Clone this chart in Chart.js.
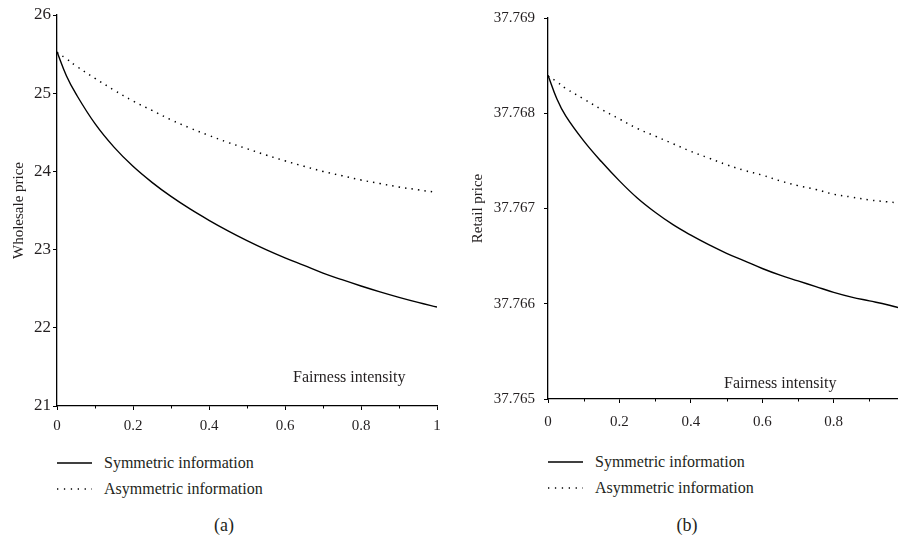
<!DOCTYPE html>
<html>
<head>
<meta charset="utf-8">
<script src="https://cdn.jsdelivr.net/npm/chart.js@4.4.1/dist/chart.umd.min.js"></script>
<style>
  body { margin: 0; background: #fff; width: 898px; height: 541px; overflow: hidden; position: relative;
         font-family: "Liberation Serif", "DejaVu Serif", serif; color: #231f20; }
  .panel { position: absolute; top: 0; width: 449px; height: 445px; }
  .row { position: absolute; height: 20px; line-height: 20px; font-size: 16px; white-space: nowrap; }
  .row svg { position: absolute; left: 0; top: 8px; }
  .row span { position: absolute; }
  .caption { position: absolute; font-size: 18px; transform: translate(-50%, -50%); }
</style>
</head>
<body>
<div class="panel" style="left:0"><canvas id="chartA" width="449" height="445"></canvas></div>
<div class="panel" style="left:449px"><canvas id="chartB" width="449" height="445"></canvas></div>

<div class="row" style="left:57px; top:453px">
  <svg width="36" height="4"><line x1="0" y1="2" x2="35" y2="2" stroke="#000" stroke-width="1.4"/></svg>
  <span style="left:47px">Symmetric information</span>
</div>
<div class="row" style="left:57px; top:479px">
  <svg width="36" height="4"><line x1="0" y1="2" x2="35" y2="2" stroke="#000" stroke-width="1.4" stroke-dasharray="1.3 5.6"/></svg>
  <span style="left:47px">Asymmetric information</span>
</div>
<div class="row" style="left:548px; top:452px">
  <svg width="36" height="4"><line x1="0" y1="2" x2="35" y2="2" stroke="#000" stroke-width="1.4"/></svg>
  <span style="left:47px">Symmetric information</span>
</div>
<div class="row" style="left:548px; top:478px">
  <svg width="36" height="4"><line x1="0" y1="2" x2="35" y2="2" stroke="#000" stroke-width="1.4" stroke-dasharray="1.3 5.6"/></svg>
  <span style="left:47px">Asymmetric information</span>
</div>
<div class="caption" style="left:224px; top:525px">(a)</div>
<div class="caption" style="left:687px; top:525px">(b)</div>

<script>
// panel (a): wholesale price vs fairness intensity
const fairnessA = [0, 0.025, 0.05, 0.1, 0.15, 0.2, 0.25, 0.3, 0.35, 0.4, 0.45, 0.5,
                   0.55, 0.6, 0.65, 0.7, 0.75, 0.8, 0.85, 0.9, 0.95, 1];
const wholesaleSym = [25.53, 25.22, 24.99, 24.61, 24.31, 24.065, 23.86, 23.68, 23.52, 23.375, 23.24, 23.115,
                      23.00, 22.895, 22.798, 22.70, 22.615, 22.535, 22.46, 22.39, 22.325, 22.265];
const wholesaleAsym = [25.52, 25.44, 25.35, 25.19, 25.04, 24.90, 24.78, 24.66, 24.555, 24.46, 24.37, 24.29,
                       24.21, 24.135, 24.065, 24.00, 23.945, 23.89, 23.845, 23.80, 23.765, 23.73];

// panel (b): retail price vs fairness intensity
const fairnessB = [0, 0.025, 0.05, 0.1, 0.15, 0.2, 0.25, 0.3, 0.35, 0.4, 0.45, 0.5,
                   0.55, 0.6, 0.65, 0.7, 0.75, 0.8, 0.85, 0.9, 0.95, 0.98];
const retailSym = [37.76840, 37.76815, 37.76797, 37.76771, 37.76749, 37.76729, 37.76711, 37.76696,
                   37.76683, 37.76672, 37.76662, 37.76653, 37.76645, 37.76637, 37.76630, 37.76624,
                   37.76618, 37.76612, 37.76607, 37.76603, 37.76599, 37.76596];
const retailAsym = [37.76839, 37.76833, 37.76826, 37.76815, 37.76804, 37.76794, 37.76784, 37.76776,
                    37.76768, 37.76760, 37.76753, 37.76746, 37.76740, 37.76735, 37.76729, 37.76724,
                    37.76720, 37.76715, 37.76712, 37.76709, 37.76707, 37.76706];

const wholesaleTicks = [21, 22, 23, 24, 25, 26];
const retailTicks = [37.765, 37.766, 37.767, 37.768, 37.769];
const xTicksA = [0, 0.2, 0.4, 0.6, 0.8, 1];
const xTicksB = [0, 0.2, 0.4, 0.6, 0.8];
const minorTicks = [0.1, 0.3, 0.5, 0.7, 0.9];

const FONT = '"Liberation Serif", "DejaVu Serif", serif';
const INK = '#231f20';

// minor x ticks + the "Fairness intensity" label sitting inside the plot
const extras = {
    id: 'extras',
    afterDraw(chart, args, opts) {
        const { ctx, chartArea, scales } = chart;
        ctx.save();
        ctx.strokeStyle = '#000';
        ctx.lineWidth = 1;
        opts.minor.forEach(v => {
            if (v > scales.x.max) return;
            const px = Math.round(scales.x.getPixelForValue(v)) + 0.5;
            ctx.beginPath();
            ctx.moveTo(px, chartArea.bottom);
            ctx.lineTo(px, chartArea.bottom + 2.5);
            ctx.stroke();
        });
        ctx.fillStyle = INK;
        ctx.font = '16px ' + FONT;
        ctx.textBaseline = 'middle';
        ctx.fillText(opts.label, chartArea.left + opts.dx, chartArea.bottom - opts.dy);
        ctx.restore();
    }
};

function points(xs, ys) {
    return xs.map((x, i) => ({ x: x, y: ys[i] }));
}

function makeChart(id, cfg) {
    return new Chart(document.getElementById(id), {
        type: 'line',
        data: {
            datasets: [{
                label: 'Symmetric information',
                data: points(cfg.xs, cfg.sym),
                borderColor: '#000',
                borderWidth: 1.4,
                pointRadius: 0,
                tension: 0.4
            }, {
                label: 'Asymmetric information',
                data: points(cfg.xs, cfg.asym),
                borderColor: '#000',
                borderWidth: 1.5,
                borderDash: [1.4, 5.1],
                pointRadius: 0,
                tension: 0.4
            }]
        },
        options: {
            responsive: false,
            animation: false,
            events: [],
            layout: { padding: { top: 15, right: cfg.padRight, left: 0, bottom: 0 } },
            plugins: {
                legend: { display: false },
                tooltip: { enabled: false },
                extras: { minor: minorTicks, label: 'Fairness intensity', dx: cfg.labelDx, dy: cfg.labelDy }
            },
            scales: {
                x: {
                    type: 'linear',
                    min: 0,
                    max: cfg.xMax,
                    afterBuildTicks: s => { s.ticks = cfg.xTicks.map(v => ({ value: v })); },
                    afterFit: s => { s.height = cfg.xHeight; },
                    grid: { drawOnChartArea: false, drawTicks: true, tickLength: 4, tickColor: '#000', tickWidth: 1 },
                    border: { display: true, color: '#000', width: 1.3 },
                    ticks: {
                        font: { family: FONT, size: 15 },
                        color: INK,
                        padding: cfg.xPad,
                        maxRotation: 0,
                        autoSkip: false,
                        callback: v => String(v)
                    }
                },
                y: {
                    type: 'linear',
                    min: cfg.yTicks[0],
                    max: cfg.yTicks[cfg.yTicks.length - 1],
                    afterBuildTicks: s => { s.ticks = cfg.yTicks.map(v => ({ value: v })); },
                    afterFit: s => { s.width = cfg.yWidth; },
                    grid: { drawOnChartArea: false, drawTicks: true, tickLength: 4, tickColor: '#000', tickWidth: 1 },
                    border: { display: true, color: '#000', width: 1.3 },
                    ticks: {
                        font: { family: FONT, size: cfg.yFont },
                        color: INK,
                        padding: cfg.yPad,
                        callback: v => v.toFixed(cfg.decimals)
                    },
                    title: {
                        display: true,
                        text: cfg.yTitle,
                        font: { family: FONT, size: 15 },
                        color: INK,
                        padding: { top: cfg.titlePad, bottom: 0 }
                    }
                }
            }
        },
        plugins: [extras]
    });
}

makeChart('chartA', {
    xs: fairnessA, sym: wholesaleSym, asym: wholesaleAsym,
    xTicks: xTicksA, xMax: 1, yTicks: wholesaleTicks, decimals: 0,
    yTitle: 'Wholesale price', yWidth: 57, xHeight: 39, padRight: 12,
    yFont: 17, yPad: 2, xPad: 7, titlePad: 10, labelDx: 236, labelDy: 28
});

makeChart('chartB', {
    xs: fairnessB, sym: retailSym, asym: retailAsym,
    xTicks: xTicksB, xMax: 0.98, yTicks: retailTicks, decimals: 3,
    yTitle: 'Retail price', yWidth: 99, xHeight: 46, padRight: 0,
    yFont: 15, yPad: 9, xPad: 10, titlePad: 20, labelDx: 176, labelDy: 15
});
</script>
</body>
</html>
